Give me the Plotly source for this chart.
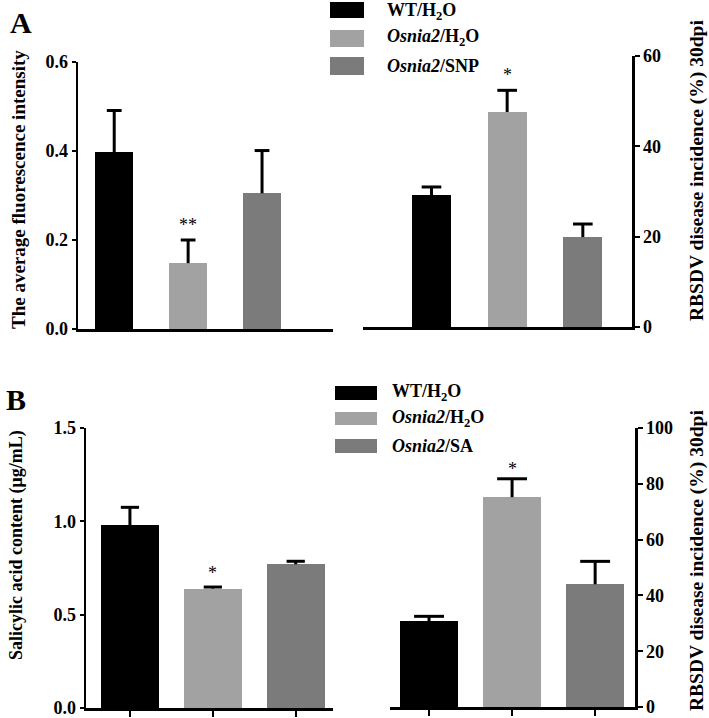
import plotly.graph_objects as go

# ---------------- data ----------------
x_pos = [0, 1, 2]
groups_A = ["WT/H<sub>2</sub>O", "<i>Osnia2</i>/H<sub>2</sub>O", "<i>Osnia2</i>/SNP"]
groups_B = ["WT/H<sub>2</sub>O", "<i>Osnia2</i>/H<sub>2</sub>O", "<i>Osnia2</i>/SA"]

fluor_mean = [0.397, 0.148, 0.305]
fluor_err = [0.094, 0.052, 0.096]
fluor_sig = ["", "**", ""]

rbsdvA_mean = [29.2, 47.6, 19.9]
rbsdvA_err = [1.8, 4.8, 2.9]
rbsdvA_sig = ["", "*", ""]

sa_mean = [0.98, 0.64, 0.77]
sa_err = [0.095, 0.008, 0.016]
sa_sig = ["", "*", ""]

rbsdvB_mean = [30.7, 75.2, 44.0]
rbsdvB_err = [1.8, 6.6, 8.2]
rbsdvB_sig = ["", "*", ""]

fluor_ticks = [0.0, 0.2, 0.4, 0.6]
fluor_ticktext = ["0.0", "0.2", "0.4", "0.6"]
rbsdvA_ticks = [0, 20, 40, 60]
sa_ticks = [0.0, 0.5, 1.0, 1.5]
sa_ticktext = ["0.0", "0.5", "1.0", "1.5"]
rbsdvB_ticks = [0, 20, 40, 60, 80, 100]

colors = ["#000000", "#a2a2a2", "#7b7b7b"]

# ---------------- style ----------------
W, H = 709, 718
FONT = "Liberation Serif"


def px(x):
    return x / W


def py(y):
    return 1 - y / H


fig = go.Figure()


def add_panel(n, means, errs, bar_w, cap, sig, sig_shift):
    xa = "x" if n == 1 else f"x{n}"
    ya = "y" if n == 1 else f"y{n}"
    fig.add_trace(go.Bar(x=x_pos, y=means, width=bar_w,
                         marker=dict(color=colors, line=dict(width=0)),
                         xaxis=xa, yaxis=ya, showlegend=False,
                         hoverinfo="skip"))
    ex, ey = [], []
    for xi, m, e in zip(x_pos, means, errs):
        ex += [xi, xi, None, xi - cap, xi + cap, None]
        ey += [m, m + e, None, m + e, m + e, None]
    fig.add_trace(go.Scatter(x=ex, y=ey, mode="lines",
                             line=dict(color="black", width=3),
                             xaxis=xa, yaxis=ya, showlegend=False,
                             hoverinfo="skip"))
    for xi, m, e, s in zip(x_pos, means, errs, sig):
        if s:
            fig.add_annotation(x=xi, y=m + e, xref=xa, yref=ya, text=s,
                               showarrow=False, yanchor="bottom",
                               yshift=sig_shift,
                               font=dict(family=FONT, size=18, color="#000000"))


add_panel(1, fluor_mean, fluor_err, 0.51, 0.1, fluor_sig, 3)
add_panel(2, rbsdvA_mean, rbsdvA_err, 0.515, 0.13, rbsdvA_sig, 3)
add_panel(3, sa_mean, sa_err, 0.70, 0.11, sa_sig, 2)
add_panel(4, rbsdvB_mean, rbsdvB_err, 0.69, 0.18, rbsdvB_sig, -2)

tickfont = dict(family=FONT, size=18, color="black", weight="bold")
axis_common = dict(showgrid=False, zeroline=False, showline=True,
                   linecolor="black", linewidth=2.5, tickcolor="black",
                   tickwidth=2, tickfont=tickfont, fixedrange=True,
                   ticklabeloverflow="allow")

fig.update_layout(
    width=W, height=H,
    margin=dict(l=0, r=0, t=0, b=0, autoexpand=False),
    paper_bgcolor="white", plot_bgcolor="white",
    bargap=0,
    xaxis=dict(domain=[px(78), px(333)], range=[-0.49, 2.96], anchor="y",
               tickvals=x_pos, showticklabels=False, ticks="", **axis_common),
    yaxis=dict(domain=[py(329), py(62)], range=[0, 0.6], anchor="x",
               tickvals=fluor_ticks, ticktext=fluor_ticktext, ticks="outside",
               ticklen=4, **axis_common),
    xaxis2=dict(domain=[px(363), px(632)], range=[-0.905, 2.65], anchor="y2",
                tickvals=x_pos, showticklabels=False, ticks="", **axis_common),
    yaxis2=dict(domain=[py(327), py(56)], range=[0, 60], anchor="x2",
                side="right", tickvals=rbsdvA_ticks, ticks="outside",
                ticklen=5, **axis_common),
    xaxis3=dict(domain=[px(86), px(333)], range=[-0.53, 2.45], anchor="y3",
                tickvals=x_pos, showticklabels=False, ticks="outside",
                ticklen=6, **axis_common),
    yaxis3=dict(domain=[py(708), py(428)], range=[0, 1.5], anchor="x3",
                tickvals=sa_ticks, ticktext=sa_ticktext, ticks="outside",
                ticklen=4, **axis_common),
    xaxis4=dict(domain=[px(390), px(635)], range=[-0.47, 2.48], anchor="y4",
                tickvals=x_pos, showticklabels=False, ticks="outside",
                ticklen=6, **axis_common),
    yaxis4=dict(domain=[py(707), py(428)], range=[0, 100], anchor="x4",
                side="right", tickvals=rbsdvB_ticks, ticks="outside",
                ticklen=5, **axis_common),
)

# axis titles
for text, x, y, s in [
    ("<b>The average fluorescence intensity</b>", 18, 190, 19),
    ("<b>RBSDV disease incidence (%) 30dpi</b>", 697, 171, 19.5),
    ("<b>Salicylic acid content (μg/mL)</b>", 16, 545, 18),
    ("<b>RBSDV disease incidence (%) 30dpi</b>", 697, 561, 19.5),
]:
    fig.add_annotation(x=px(x), y=py(y), xref="paper", yref="paper",
                       text=text, textangle=-90, showarrow=False,
                       xanchor="center", yanchor="middle",
                       font=dict(family=FONT, size=s, color="black"))

# panel labels
for text, x, y in [("A", 21, 23), ("B", 16, 399)]:
    fig.add_annotation(x=px(x), y=py(y), xref="paper", yref="paper",
                       text=f"<b>{text}</b>", showarrow=False,
                       xanchor="center", yanchor="middle",
                       font=dict(family=FONT, size=30, color="black"))

# legends
leg_font = dict(family=FONT, size=18, color="black")
legA_boxes = [(2, 18), (30, 47), (57, 75)]
legA_text_y = [12, 38, 66]
for (y0, y1), ty, c, lab in zip(legA_boxes, legA_text_y, colors, groups_A):
    fig.add_shape(type="rect", xref="paper", yref="paper",
                  x0=px(330), x1=px(364), y0=py(y1), y1=py(y0),
                  fillcolor=c, line=dict(width=0))
    fig.add_annotation(x=px(385), y=py(ty), xref="paper", yref="paper",
                       text=f"<b>{lab}</b>", showarrow=False,
                       xanchor="left", yanchor="middle", font=leg_font)

legB_boxes = [(386, 400), (412, 425), (439, 453)]
legB_text_y = [393, 419, 446]
for (y0, y1), ty, c, lab in zip(legB_boxes, legB_text_y, colors, groups_B):
    fig.add_shape(type="rect", xref="paper", yref="paper",
                  x0=px(335), x1=px(377), y0=py(y1), y1=py(y0),
                  fillcolor=c, line=dict(width=0))
    fig.add_annotation(x=px(390), y=py(ty), xref="paper", yref="paper",
                       text=f"<b>{lab}</b>", showarrow=False,
                       xanchor="left", yanchor="middle", font=leg_font)

fig.write_html("out.html",
               config={"displayModeBar": False, "staticPlot": True},
               post_script="document.body.style.margin='0';"
                           "document.body.style.overflow='hidden';")
